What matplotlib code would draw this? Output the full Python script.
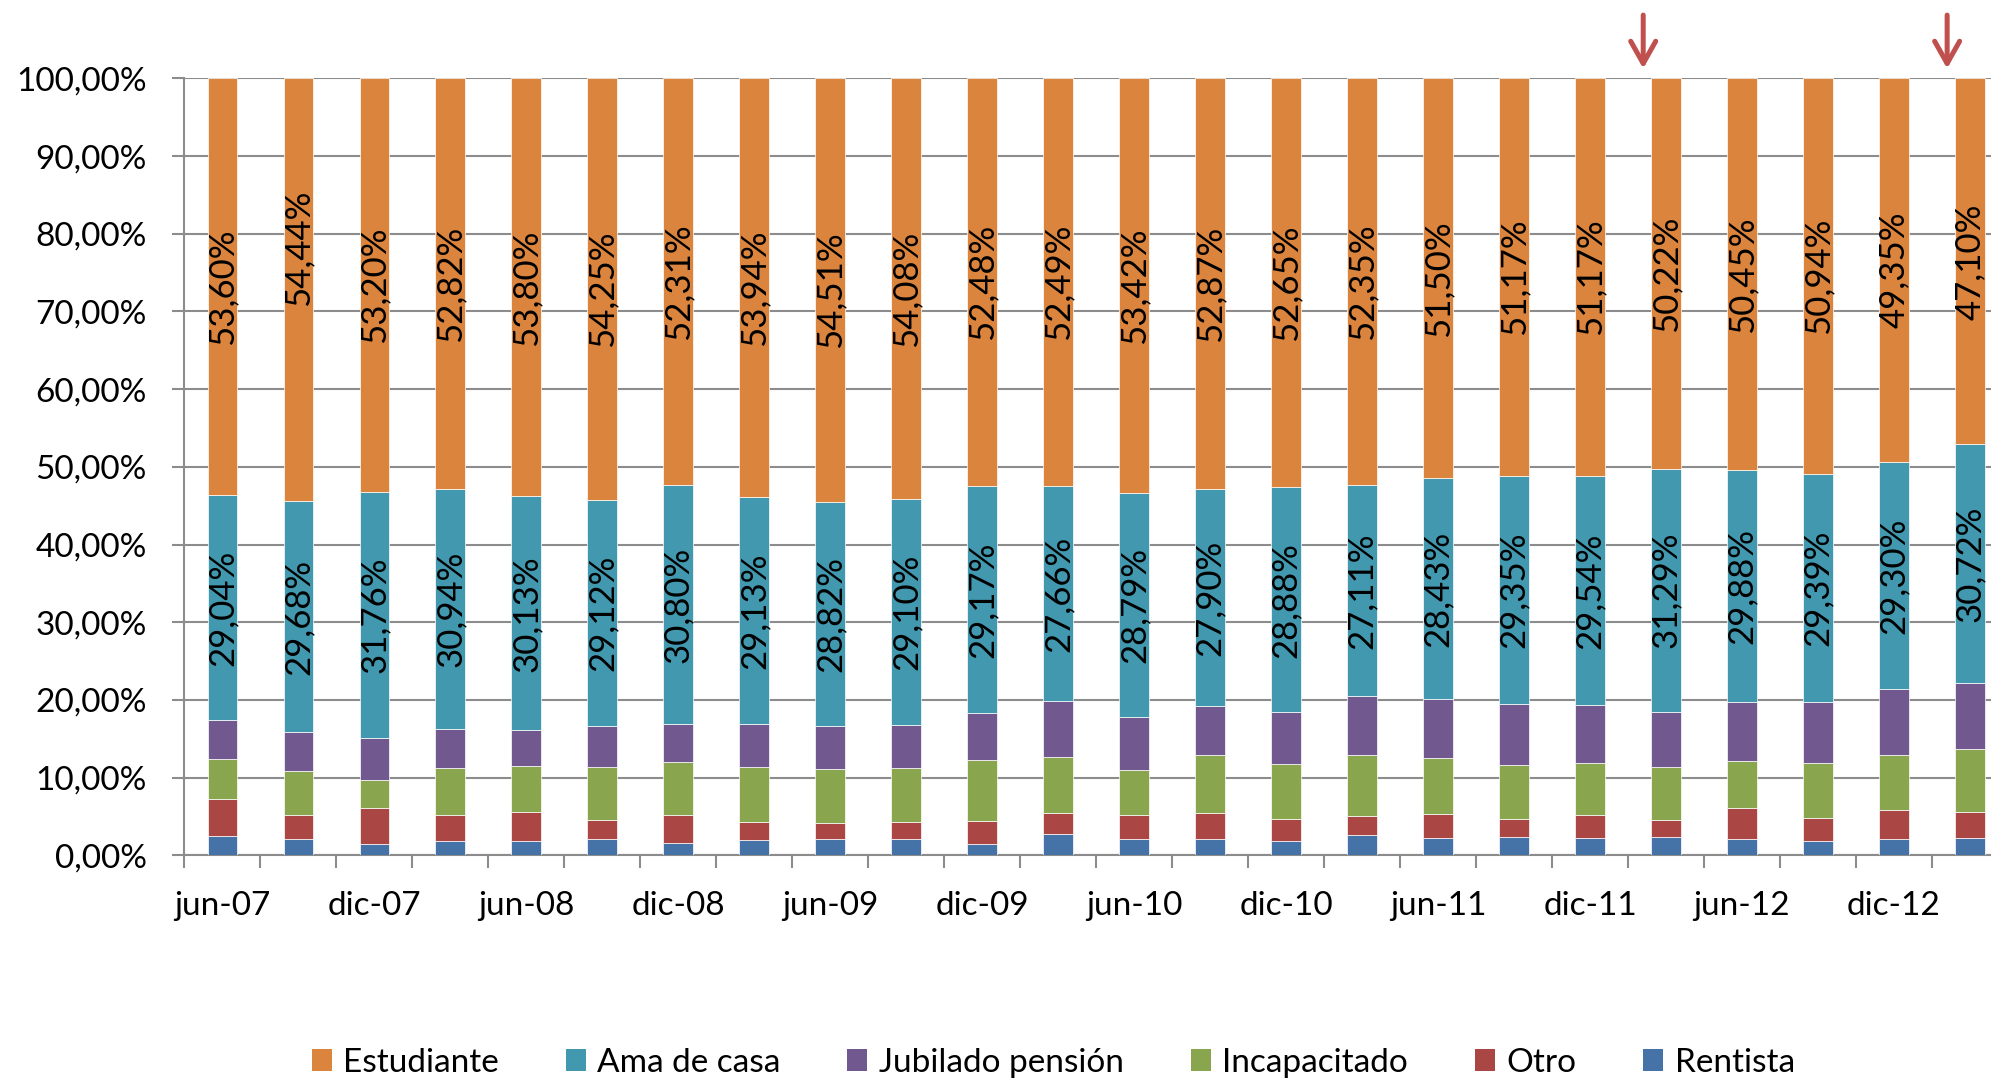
import matplotlib
matplotlib.use("Agg")
import matplotlib.pyplot as plt
import numpy as np
from matplotlib.patches import Patch
from matplotlib.ticker import FixedLocator, FuncFormatter

periods = ["jun-07", "sep-07", "dic-07", "mar-08", "jun-08", "sep-08", "dic-08", "mar-09",
           "jun-09", "sep-09", "dic-09", "mar-10", "jun-10", "sep-10", "dic-10", "mar-11",
           "jun-11", "sep-11", "dic-11", "mar-12", "jun-12", "sep-12", "dic-12", "mar-13"]

# stacked bottom -> top
rentista = [2.53, 2.15, 1.50, 1.89, 1.85, 2.10, 1.59, 2.02, 2.10, 2.15, 1.46, 2.75,
            2.15, 2.10, 1.85, 2.62, 2.23, 2.32, 2.27, 2.40, 2.10, 1.85, 2.10, 2.27]
otro = [4.77, 3.04, 4.59, 3.35, 3.73, 2.40, 3.60, 2.27, 2.06, 2.14, 2.92, 2.66,
        3.00, 3.35, 2.79, 2.40, 3.09, 2.36, 2.88, 2.15, 3.99, 2.91, 3.69, 3.27]
incapacitado = [5.06, 5.71, 3.57, 6.00, 5.92, 6.92, 6.78, 7.13, 6.91, 7.00, 7.94, 7.25,
                5.88, 7.47, 7.16, 7.86, 7.21, 6.95, 6.70, 6.78, 6.10, 7.17, 7.17, 8.19]
jubilado = [5.00, 4.98, 5.38, 5.00, 4.57, 5.21, 4.92, 5.51, 5.60, 5.53, 6.03, 7.19,
            6.76, 6.31, 6.67, 7.66, 7.54, 7.85, 7.44, 7.16, 7.48, 7.74, 8.39, 8.45]
ama_de_casa = [29.04, 29.68, 31.76, 30.94, 30.13, 29.12, 30.80, 29.13, 28.82, 29.10, 29.17, 27.66,
               28.79, 27.90, 28.88, 27.11, 28.43, 29.35, 29.54, 31.29, 29.88, 29.39, 29.30, 30.72]
estudiante = [53.60, 54.44, 53.20, 52.82, 53.80, 54.25, 52.31, 53.94, 54.51, 54.08, 52.48, 52.49,
              53.42, 52.87, 52.65, 52.35, 51.50, 51.17, 51.17, 50.22, 50.45, 50.94, 49.35, 47.10]

series = [
    ("Rentista", rentista, "#4572A7"),
    ("Otro", otro, "#AA4643"),
    ("Incapacitado", incapacitado, "#89A54E"),
    ("Jubilado pensión", jubilado, "#71588F"),
    ("Ama de casa", ama_de_casa, "#4198AF"),
    ("Estudiante", estudiante, "#DB843D"),
]
labelled = {"Ama de casa", "Estudiante"}
marked = ["mar-12", "mar-13"]  # red arrows above these bars

plt.rcParams["font.family"] = ["Lato", "DejaVu Sans"]


def pct(v):
    return f"{v:.2f}%".replace(".", ",")


fig = plt.figure(figsize=(19.91, 10.79), dpi=100)
ax = fig.add_axes([0.0926, 0.2073, 0.9159, 0.7201])

x = np.arange(len(periods))
bottom = np.zeros(len(periods))
for name, vals, color in series:
    vals = np.array(vals)
    ax.bar(x, vals, width=0.39, bottom=bottom, color=color, edgecolor="#ffffff",
           linewidth=0.5, zorder=3)
    if name in labelled:
        for i, (b, v) in enumerate(zip(bottom, vals)):
            y = b + v / 2
            if name == "Estudiante" and i == 1:
                y += 5.4  # label was nudged up in the original
            ax.text(x[i], y, pct(v), rotation=90, ha="center", va="center",
                    fontsize=25, color="black", zorder=4)
    bottom += vals

ax.set_xlim(-0.5, len(periods) - 0.5)
ax.set_ylim(0, 100)
ax.set_yticks(np.arange(0, 101, 10))
ax.yaxis.set_major_formatter(FuncFormatter(lambda v, _: pct(v)))
ax.yaxis.grid(True, color="#8c8c8c", linewidth=1.5, zorder=0)
ax.tick_params(axis="y", length=9, width=1.5, color="#8c8c8c", labelsize=24, pad=18)

# boundary ticks, labels on every second bar
ax.xaxis.set_major_locator(FixedLocator(np.arange(-0.5, len(periods), 1.0)))
ax.xaxis.set_major_formatter(FuncFormatter(lambda v, _: ""))
ax.xaxis.set_minor_locator(FixedLocator(x[::2]))
ax.set_xticklabels(periods[::2], minor=True)
ax.tick_params(axis="x", which="major", length=9, width=1.5, color="#8c8c8c")
ax.tick_params(axis="x", which="minor", length=0, labelsize=24, pad=26)

for side in ["top", "right"]:
    ax.spines[side].set_visible(False)
for side in ["left", "bottom"]:
    ax.spines[side].set_color("#8c8c8c")
    ax.spines[side].set_linewidth(1.5)

for p in marked:
    i = periods.index(p)
    ax.annotate("", xy=(i - 0.3, 100.9), xytext=(i - 0.3, 108.5),
                arrowprops=dict(arrowstyle="->,head_length=0.8,head_width=0.45",
                                color="#C0504D", lw=3.6, mutation_scale=20),
                annotation_clip=False)

handles = [Patch(facecolor=c, label=n) for n, _, c in reversed(series)]
fig.legend(handles=handles, loc="center", bbox_to_anchor=(0.529, 0.0148), ncol=6,
           frameon=False, fontsize=24, handlelength=0.6, handleheight=0.65,
           handletextpad=0.35, columnspacing=2.0)

fig.savefig("out.png", dpi=100)
